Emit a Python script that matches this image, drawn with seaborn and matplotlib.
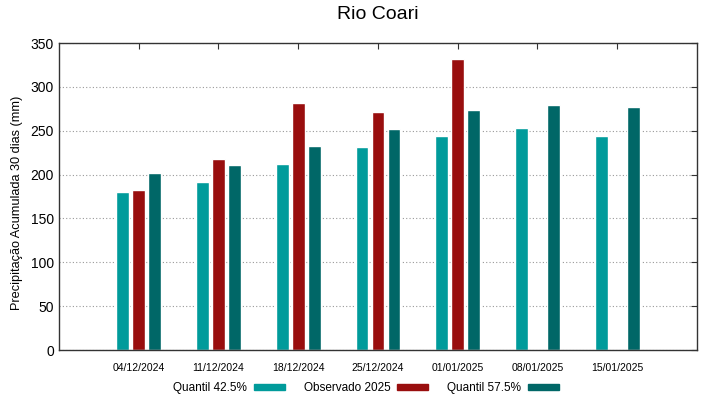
import pandas as pd
import matplotlib
matplotlib.use("Agg")
import matplotlib.pyplot as plt
import seaborn as sns
from matplotlib.patches import Patch

# Valores
datas = ["04/12/2024", "11/12/2024", "18/12/2024", "25/12/2024",
         "01/01/2025", "08/01/2025", "15/01/2025"]
quantil_425 = [180, 191, 212, 231, 244, 253, 244]
observado = [182, 218, 282, 271, 332, None, None]
quantil_575 = [202, 211, 233, 252, 274, 279, 277]

series = ["Quantil 42.5%", "Observado 2025", "Quantil 57.5%"]
cores = {"Quantil 42.5%": "#009b9b",
         "Observado 2025": "#990e0e",
         "Quantil 57.5%": "#006767"}

df = pd.DataFrame({"Data": datas,
                   "Quantil 42.5%": quantil_425,
                   "Observado 2025": observado,
                   "Quantil 57.5%": quantil_575})
longo = df.melt(id_vars="Data", value_vars=series,
                var_name="Serie", value_name="Precip").dropna()

sns.set_style("white")
plt.rcParams["font.family"] = ["Liberation Sans", "DejaVu Sans"]
plt.rcParams["text.color"] = "black"
plt.rcParams["xtick.color"] = "black"
plt.rcParams["ytick.color"] = "black"
plt.rcParams["axes.labelcolor"] = "black"

fig = plt.figure(figsize=(7.19, 3.99), dpi=100)
ax = fig.add_axes([0.082, 0.1228, 0.8874, 0.7694])

sns.barplot(data=longo, x="Data", y="Precip", hue="Serie", hue_order=series,
            order=datas, palette=cores, width=0.6, gap=0.2, saturation=1,
            errorbar=None, legend=False, ax=ax)

ax.set_xlim(-1, 7)
ax.set_ylim(0, 350)
ax.set_yticks(range(0, 351, 50))
ax.yaxis.grid(True, linestyle=(0, (1, 2)), color="#999999", linewidth=0.8)
ax.set_axisbelow(True)
ax.tick_params(axis="both", direction="in", top=True, right=True,
               length=4, color="#333333")
ax.tick_params(axis="x", labelsize=7.5, pad=9)
ax.tick_params(axis="y", labelsize=10)
for s in ax.spines.values():
    s.set_color("#333333")
    s.set_linewidth(1)

ax.set_xlabel("")
ax.set_ylabel("Precipitação Acumulada 30 dias (mm)", fontsize=9.2)
ax.yaxis.set_label_coords(-0.057, 0.48)
ax.set_title("Rio Coari", fontsize=14, pad=17)

alcas = [Patch(color=cores[s]) for s in series]
fig.legend(alcas, series, loc="center", bbox_to_anchor=(0.509, 0.027),
           ncol=3, frameon=False, markerfirst=False, fontsize=8.5,
           handlelength=2.6, handleheight=0.5, columnspacing=1.6,
           handletextpad=0.6)

fig.savefig("out.png", dpi=100)
